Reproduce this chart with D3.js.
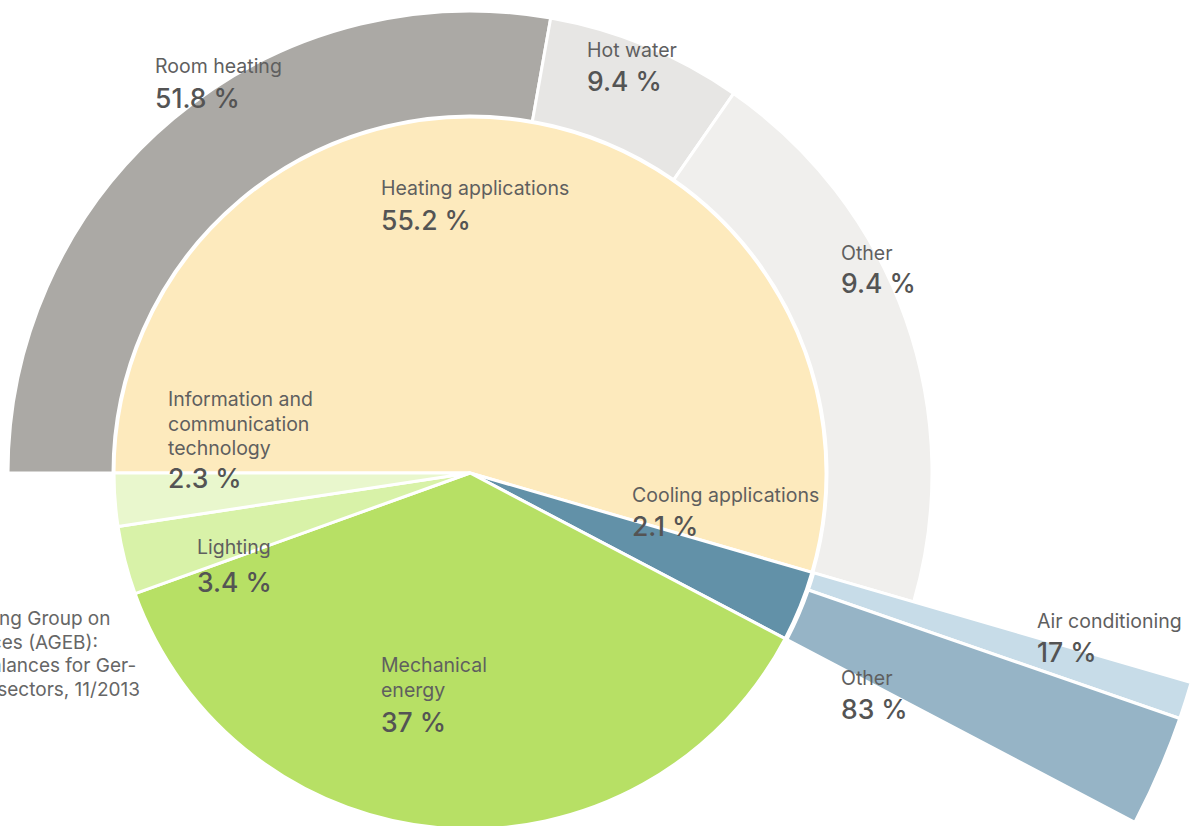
<!DOCTYPE html>
<html>
<head>
<meta charset="utf-8">
<script src="https://cdn.jsdelivr.net/npm/d3@7"></script>
<style>
	body { margin: 0; background: #fff; }
	svg { display: block; font-family: Inter, "Noto Sans", sans-serif; }
	.slice { stroke: #fff; stroke-width: 3; }
	.name { fill: #5f5f5f; font-size: 19.5px; }
	.value { fill: #545454; font-size: 26.5px; font-weight: 500; }
	.source { fill: #666; font-size: 19px; }
</style>
</head>
<body>
<div class="container"></div>
<script>

// final energy use by application (inner pie)
const useNames = ["Heating applications", "Cooling applications", "Mechanical\nenergy", "Lighting", "Information and\ncommunication\ntechnology"];
const useLabels = ["55.2 %", "2.1 %", "37 %", "3.4 %", "2.3 %"];
// slice sizes as they are drawn in the picture (cooling is drawn a bit larger than printed)
const useShares = [54.5, 3.2, 36.8, 3.1, 2.4];
const useColors = ["#fdeabd", "#6291a8", "#b7e065", "#d8f2a8", "#e9f7cd"];

// breakdown of heating applications (outer ring)
const heatNames = ["Room heating", "Hot water", "Other"];
const heatLabels = ["51.8 %", "9.4 %", "9.4 %"];
const heatShares = [51, 12.6, 36.4];
const heatColors = ["#aba9a5", "#e7e6e4", "#f0efed"];

// breakdown of cooling applications (pulled out ring)
const coolNames = ["Air conditioning", "Other"];
const coolLabels = ["17 %", "83 %"];
const coolShares = [25, 75];
const coolColors = ["#c7dce8", "#96b4c6"];

const sourceLines = ["Source: Working Group on", "Energy Balances (AGEB):", "Application balances for Ger-", "man end-use sectors, 11/2013"];

const width = 1191;
const height = 826;
const cx = 470;
const cy = 473;

// hand placed label anchors (x, baseline of first line, gap to the value)
const labelPos = {
	"Heating applications": [381, 195, 35],
	"Cooling applications": [632, 502, 34],
	"Mechanical\nenergy": [381, 672, 35],
	"Lighting": [197, 554, 38],
	"Information and\ncommunication\ntechnology": [168, 406, 33],
	"Room heating": [155, 73, 35],
	"Hot water": [587, 57, 34],
	"Other heat": [841, 260, 33],
	"Air conditioning": [1037, 628, 34],
	"Other cool": [841, 685, 34]
};

const svg = d3.select(".container")
				.append("svg")
					.attr("width", width)
					.attr("height", height);

const g = svg.append("g")
				.attr("transform", `translate(${cx},${cy})`);

const pieUse = d3.pie()
				.sort(null)
				.startAngle(-Math.PI / 2)
				.endAngle(1.5 * Math.PI);

const useArcs = pieUse(useShares);
const heatSlice = useArcs[0];
const coolSlice = useArcs[1];

const heatArcs = d3.pie().sort(null)
				.startAngle(heatSlice.startAngle)
				.endAngle(heatSlice.endAngle)(heatShares);

const coolArcs = d3.pie().sort(null)
				.startAngle(coolSlice.startAngle)
				.endAngle(coolSlice.endAngle)(coolShares);

const innerArc = d3.arc().innerRadius(0).outerRadius(356);
const heatArc = d3.arc().innerRadius(357).outerRadius(462);
const coolArc = d3.arc().innerRadius(358).outerRadius(751);

// draw rings
g.append("g").attr("class", "heat-ring")
	.selectAll("path")
		.data(heatArcs).enter()
	.append("path")
		.attr("class", "slice")
		.attr("d", heatArc)
		.style("fill", (d, i) => heatColors[i]);

g.append("g").attr("class", "cool-ring")
	.selectAll("path")
		.data(coolArcs).enter()
	.append("path")
		.attr("class", "slice")
		.attr("d", coolArc)
		.style("fill", (d, i) => coolColors[i]);

// draw pie
g.append("g").attr("class", "pie")
	.selectAll("path")
		.data(useArcs).enter()
	.append("path")
		.attr("class", "slice")
		.attr("d", innerArc)
		.style("fill", (d, i) => useColors[i]);

// labels
const labels = [];
useNames.forEach((n, i) => labels.push({ name: n, value: useLabels[i], key: n }));
heatNames.forEach((n, i) => labels.push({ name: n, value: heatLabels[i], key: n === "Other" ? "Other heat" : n }));
coolNames.forEach((n, i) => labels.push({ name: n, value: coolLabels[i], key: n === "Other" ? "Other cool" : n }));

const lineHeight = 24.5;

const label = svg.append("g")
				.attr("class", "labels")
			.selectAll("g")
				.data(labels).enter()
			.append("g")
				.attr("transform", (d) => `translate(${labelPos[d.key][0]},${labelPos[d.key][1]})`);

label
	.append("text")
		.attr("class", "name")
	.selectAll("tspan")
		.data((d) => d.name.split("\n")).enter()
	.append("tspan")
		.attr("x", 0)
		.attr("y", (d, i) => i * lineHeight)
		.text((d) => d);

label
	.append("text")
		.attr("class", "value")
		.attr("y", (d) => (d.name.split("\n").length - 1) * lineHeight + labelPos[d.key][2])
		.text((d) => d.value);

// source note, runs off the left edge like in the original layout
svg.append("text")
	.attr("class", "source")
	.selectAll("tspan")
		.data(sourceLines).enter()
	.append("tspan")
		.attr("x", -127)
		.attr("y", (d, i) => 625 + i * 23.7)
		.text((d) => d);

</script>
</body>
</html>
